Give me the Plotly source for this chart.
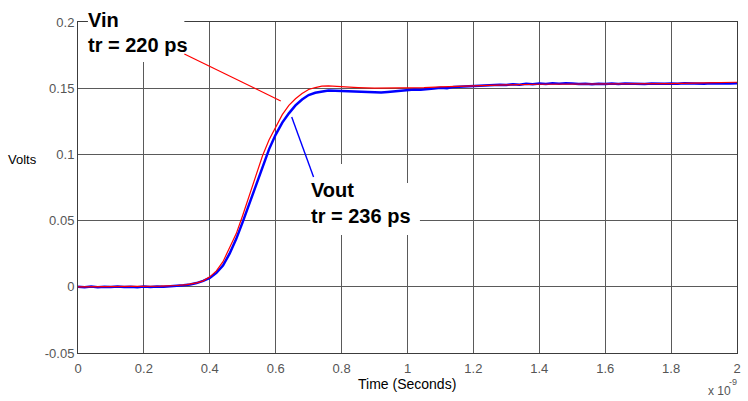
import plotly.graph_objects as go

# Time values in units of 1e-9 s (axis shows the "x 10^-9" multiplier)
time_in = [0, 0.05, 0.1, 0.15, 0.2, 0.25, 0.3, 0.33, 0.36, 0.38, 0.40, 0.42, 0.44,
           0.46, 0.48, 0.50, 0.52, 0.54, 0.56, 0.58, 0.60, 0.62, 0.64, 0.66, 0.68,
           0.70, 0.72, 0.74, 0.76, 0.80, 0.85, 0.90, 0.95, 1.0, 1.05, 1.1, 1.15,
           1.2, 1.3, 1.4, 1.5, 1.6, 1.7, 1.8, 1.9, 2.0]

vin = [0.0, 0.0, 0.0, 0.0002, 0.0003, 0.0005, 0.001, 0.0017, 0.003, 0.0045, 0.0075,
       0.012, 0.019, 0.029, 0.040, 0.054, 0.069, 0.084, 0.099, 0.111, 0.121, 0.130,
       0.137, 0.142, 0.146, 0.149, 0.1505, 0.1515, 0.1517, 0.151, 0.1505, 0.150,
       0.150, 0.1502, 0.1505, 0.151, 0.1515, 0.152, 0.1525, 0.153, 0.153, 0.153,
       0.1532, 0.1535, 0.154, 0.1545]

time_out = [0.00, 0.02, 0.04, 0.06, 0.08, 0.10, 0.12, 0.14, 0.16, 0.18, 0.20, 0.22,
            0.24, 0.26, 0.28, 0.30, 0.32, 0.34, 0.36, 0.38, 0.40, 0.42, 0.44, 0.46,
            0.48, 0.50, 0.52, 0.54, 0.56, 0.58, 0.60, 0.62, 0.64, 0.66, 0.68, 0.70,
            0.72, 0.74, 0.76, 0.78, 0.80, 0.82, 0.84, 0.86, 0.88, 0.90, 0.92, 0.94,
            0.96, 0.98, 1.00, 1.02, 1.04, 1.06, 1.08, 1.10, 1.12, 1.14, 1.16, 1.18,
            1.20, 1.22, 1.24, 1.26, 1.28, 1.30, 1.32, 1.34, 1.36, 1.38, 1.40, 1.42,
            1.44, 1.46, 1.48, 1.50, 1.52, 1.54, 1.56, 1.58, 1.60, 1.62, 1.64, 1.66,
            1.68, 1.70, 1.72, 1.74, 1.76, 1.78, 1.80, 1.82, 1.84, 1.86, 1.88, 1.90,
            1.92, 1.94, 1.96, 1.98, 2.00]

vout = [0.0000, -0.0004, 0.0002, -0.0003, 0.0001, -0.0002, 0.0003, -0.0002, 0.0001,
        -0.0003, 0.0002, -0.0001, 0.0003, 0.0000, 0.0005, 0.0007, 0.0012, 0.0018,
        0.0028, 0.0045, 0.0068, 0.0105, 0.016, 0.025, 0.036, 0.049, 0.063, 0.077,
        0.091, 0.104, 0.115, 0.124, 0.131, 0.137, 0.1415, 0.1448, 0.1465, 0.1475,
        0.1482, 0.1480, 0.1478, 0.1480, 0.1474, 0.1476, 0.1470, 0.1472, 0.1468,
        0.1472, 0.1476, 0.1480, 0.1484, 0.1490, 0.1488, 0.1495, 0.1498, 0.1503,
        0.1500, 0.1510, 0.1512, 0.1515, 0.1520, 0.1518, 0.1524, 0.1521, 0.1526,
        0.1524, 0.1530, 0.1527, 0.1533, 0.1530, 0.1536, 0.1532, 0.1537, 0.1534,
        0.1538, 0.1535, 0.1531, 0.1534, 0.1530, 0.1533, 0.1531, 0.1535, 0.1532,
        0.1536, 0.1533, 0.1534, 0.1531, 0.1535, 0.1532, 0.1534, 0.1536, 0.1533,
        0.1537, 0.1534, 0.1536, 0.1533, 0.1537, 0.1535, 0.1538, 0.1536, 0.1537]

x_ticks = [0, 0.2, 0.4, 0.6, 0.8, 1.0, 1.2, 1.4, 1.6, 1.8, 2.0]
x_tick_labels = ["0", "0.2", "0.4", "0.6", "0.8", "1", "1.2", "1.4", "1.6", "1.8", "2"]
y_ticks = [-0.05, 0, 0.05, 0.1, 0.15, 0.2]
y_tick_labels = ["-0.05", "0", "0.05", "0.1", "0.15", "0.2"]

W, H = 748, 401
ML, MR, MT, MB = 78, 7, 22, 48
PW, PH = W - ML - MR, H - MT - MB


def px(x):
    return (x - ML) / PW


def py(y):
    return (H - MB - y) / PH


FONT = "Liberation Sans, Arial, Helvetica, sans-serif"
GRID = "#5a5a5a"

fig = go.Figure()
fig.add_trace(go.Scatter(x=time_out, y=vout, mode="lines", name="Vout",
                         line=dict(color="#0000ff", width=2.5)))
fig.add_trace(go.Scatter(x=time_in, y=vin, mode="lines", name="Vin",
                         line=dict(color="#ff0000", width=1.2)))

axis_common = dict(showgrid=True, gridcolor=GRID, gridwidth=1, showline=True,
                   linecolor="#3c3c3c", linewidth=1, mirror=True, zeroline=False,
                   ticks="", tickfont=dict(family=FONT, size=13, color="#555555"))
fig.update_xaxes(range=[-1e-6, 2 + 1e-6], tickvals=x_ticks, ticktext=x_tick_labels,
                 ticklabeloverflow="allow", ticklabelstandoff=3, **axis_common)
fig.update_yaxes(range=[-0.05 - 1e-7, 0.2 + 1e-7], tickvals=y_ticks, ticktext=y_tick_labels,
                 **axis_common)

shapes = []
# white text backgrounds (paper coords)
for (x0, y0, x1, y1) in [(88, 4, 185, 62), (312, 164, 370, 235), (312, 183, 422, 235)]:
    shapes.append(dict(type="rect", xref="paper", yref="paper", x0=px(x0), x1=px(x1),
                       y0=py(y1), y1=py(y0), fillcolor="white", line=dict(width=0),
                       layer="above"))
# leader lines
shapes.append(dict(type="line", xref="paper", yref="paper", x0=px(185), y0=py(54),
                   x1=px(282), y1=py(101), line=dict(color="#ff0000", width=1.2), layer="above"))
shapes.append(dict(type="line", xref="paper", yref="paper", x0=px(293), y0=py(117),
                   x1=px(315), y1=py(177), line=dict(color="#0000ff", width=1.4), layer="above"))

label_font = dict(family=FONT, size=20, color="black")
annotations = []
for text, x, ymid in [("<b>Vin</b>", 87, 20), ("<b>tr = 220 ps</b>", 87, 45),
                      ("<b>Vout</b>", 311, 190), ("<b>tr = 236 ps</b>", 311, 216)]:
    annotations.append(dict(text=text, xref="paper", yref="paper", x=px(x), y=py(ymid),
                            xanchor="left", yanchor="middle", showarrow=False,
                            font=label_font, borderpad=0))

annotations.append(dict(text="Volts", xref="paper", yref="paper", x=px(6), y=py(159),
                        xanchor="left", yanchor="middle", showarrow=False,
                        font=dict(family=FONT, size=13, color="black")))
annotations.append(dict(text="Time (Seconds)", xref="paper", yref="paper", x=px(409), y=py(384),
                        xanchor="center", yanchor="middle", showarrow=False,
                        font=dict(family=FONT, size=14, color="black")))
annotations.append(dict(text="x 10", xref="paper", yref="paper", x=px(736), y=py(391),
                        xanchor="right", yanchor="middle", showarrow=False, borderpad=0,
                        font=dict(family=FONT, size=12, color="#555555")))
annotations.append(dict(text="-9", xref="paper", yref="paper", x=px(732), y=py(382),
                        xanchor="left", yanchor="middle", showarrow=False, borderpad=0,
                        font=dict(family=FONT, size=9, color="#555555")))

fig.update_layout(width=W, height=H, margin=dict(l=ML, r=MR, t=MT, b=MB),
                  plot_bgcolor="white", paper_bgcolor="white", showlegend=False,
                  shapes=shapes, annotations=annotations)

fig.write_html("out.html", config={"displayModeBar": False},
               post_script="document.body.style.margin='0px';")
